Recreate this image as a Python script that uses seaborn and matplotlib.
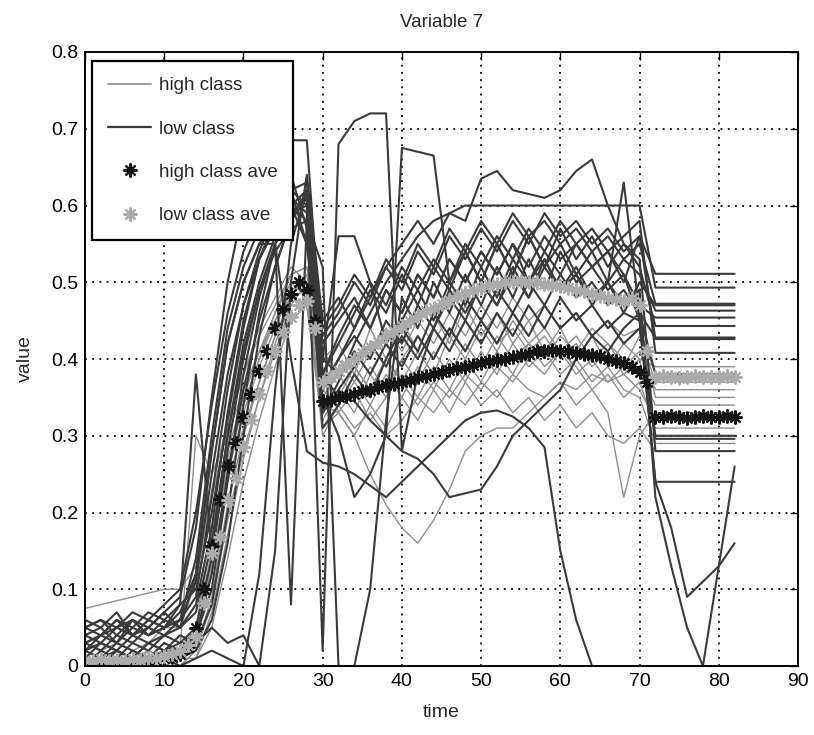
import numpy as np
import pandas as pd
import matplotlib
matplotlib.use("Agg")
import matplotlib.pyplot as plt
import seaborn as sns
from matplotlib.lines import Line2D

sns.set_theme(style="white")
plt.rcParams["font.family"] = ["Liberation Sans", "DejaVu Sans"]

# ---------------- data ----------------
time_grid = [0, 2, 4, 6, 8, 10, 12, 14, 16, 18, 20, 22, 24, 26, 28, 30, 32, 34, 36, 38, 40,
             42, 44, 46, 48, 50, 52, 54, 56, 58, 60, 62, 64, 66, 68, 70, 72, 74, 76, 78, 80, 82]
nan = float("nan")

# high class individual series (light grey)
high_1 = [0.075, 0.08, 0.085, 0.09, 0.095, 0.10,
          0.10, 0.13, 0.22, 0.31, 0.38, 0.44, 0.48, 0.52, 0.50, 0.40,
          0.42, 0.38, 0.44, 0.40, 0.45, 0.41, 0.46, 0.42, 0.47, 0.43, 0.46, 0.42, 0.45, 0.41, 0.44, 0.40, 0.43, 0.39, 0.42, 0.44,
          0.38, 0.38, 0.38, 0.38, 0.38, 0.38]
high_2 = [0.01, 0.0, 0.02, 0.01, 0.0, 0.02,
          0.02, 0.05, 0.17, 0.28, 0.35, 0.41, 0.46, 0.50, 0.48, 0.33,
          0.36, 0.33, 0.38, 0.35, 0.40, 0.37, 0.41, 0.38, 0.42, 0.39, 0.43, 0.40, 0.42, 0.39, 0.41, 0.38, 0.40, 0.37, 0.39, 0.41,
          0.36, 0.36, 0.36, 0.36, 0.36, 0.36]
high_3 = [0.0, 0.01, 0.0, 0.02, 0.01, 0.0,
          0.01, 0.03, 0.12, 0.24, 0.31, 0.37, 0.43, 0.47, 0.47, 0.34,
          0.33, 0.30, 0.25, 0.21, 0.18, 0.16, 0.19, 0.23, 0.28, 0.30, 0.31, 0.31, 0.33, 0.35, 0.37, 0.36, 0.38, 0.37, 0.38, 0.40,
          0.30, 0.30, 0.30, 0.30, 0.30, 0.30]
high_4 = [0.0, 0.0, 0.01, 0.0, 0.02, 0.01,
          0.0, 0.02, 0.08, 0.19, 0.28, 0.35, 0.41, 0.47, 0.50, 0.36,
          0.34, 0.37, 0.34, 0.38, 0.35, 0.39, 0.36, 0.40, 0.37, 0.41, 0.38, 0.42, 0.39, 0.41, 0.38, 0.40, 0.37, 0.39, 0.36, 0.35,
          0.29, 0.29, 0.29, 0.29, 0.29, 0.29]
high_5 = [0.02, 0.03, 0.02, 0.04, 0.03, 0.05,
          0.05, 0.11, 0.23, 0.32, 0.38, 0.43, 0.47, 0.51, 0.52, 0.38,
          0.35, 0.39, 0.36, 0.40, 0.37, 0.41, 0.38, 0.43, 0.40, 0.44, 0.41, 0.45, 0.42, 0.44, 0.41, 0.43, 0.40, 0.42, 0.39, 0.43,
          0.37, 0.37, 0.37, 0.37, 0.37, 0.37]
high_6 = [0.0, 0.01, 0.0, 0.0, 0.01, 0.0,
          0.01, 0.01, 0.05, 0.14, 0.24, 0.32, 0.39, 0.45, 0.47, 0.31,
          0.33, 0.30, 0.34, 0.31, 0.35, 0.32, 0.36, 0.33, 0.37, 0.34, 0.36, 0.33, 0.35, 0.32, 0.34, 0.31, 0.33, 0.30, 0.29, 0.31,
          0.28, 0.28, 0.28, 0.28, 0.28, 0.28]
high_7 = [0.0, 0.0, 0.0, 0.01, 0.0, 0.0,
          0.0, 0.02, 0.09, 0.21, 0.30, 0.37, 0.43, 0.48, 0.49, 0.35,
          0.38, 0.35, 0.39, 0.36, 0.40, 0.43, 0.40, 0.44, 0.41, 0.45, 0.42, 0.46, 0.43, 0.47, 0.44, 0.46, 0.43, 0.45, 0.42, 0.40,
          0.39, 0.39, 0.39, 0.39, 0.39, 0.39]
high_8 = [0.01, 0.0, 0.01, 0.0, 0.0, 0.01,
          0.02, 0.30, 0.25, 0.30, 0.36, 0.41, 0.45, 0.49, 0.50, 0.30,
          0.34, 0.31, 0.33, 0.30, 0.32, 0.35, 0.33, 0.36, 0.34, 0.37, 0.35, 0.38, 0.36, 0.35, 0.37, 0.34, 0.36, 0.33, 0.22, 0.30,
          0.33, 0.33, 0.33, 0.33, 0.33, 0.33]
high_9 = [0.0, 0.0, 0.01, 0.0, 0.0, 0.0,
          0.01, 0.04, 0.13, 0.25, 0.33, 0.39, 0.44, 0.49, 0.50, 0.37,
          0.40, 0.37, 0.41, 0.44, 0.41, 0.45, 0.42, 0.46, 0.43, 0.47, 0.44, 0.48, 0.45, 0.47, 0.44, 0.46, 0.43, 0.45, 0.43, 0.44,
          0.35, 0.35, 0.35, 0.35, 0.35, 0.35]
high_10 = [0.03, 0.02, 0.03, 0.02, 0.03, 0.04,
           0.05, 0.08, 0.18, 0.27, 0.34, 0.40, 0.45, 0.48, 0.47, 0.32,
           0.36, 0.39, 0.36, 0.40, 0.37, 0.34, 0.37, 0.35, 0.38, 0.36, 0.39, 0.37, 0.40, 0.38, 0.41, 0.39, 0.36, 0.38, 0.35, 0.37,
           0.31, 0.31, 0.31, 0.31, 0.31, 0.31]
high_11 = [0.0, 0.01, 0.0, 0.01, 0.0, 0.01,
           0.0, 0.01, 0.07, 0.17, 0.27, 0.35, 0.42, 0.48, 0.51, 0.39,
           0.33, 0.36, 0.32, 0.35, 0.38, 0.35, 0.39, 0.36, 0.40, 0.37, 0.41, 0.38, 0.42, 0.40, 0.43, 0.41, 0.44, 0.42, 0.40, 0.38,
           0.34, 0.34, 0.34, 0.34, 0.34, 0.34]
high_12 = [0.01, 0.0, 0.0, 0.01, 0.02, 0.01,
           0.02, 0.05, 0.15, 0.26, 0.34, 0.40, 0.46, 0.51, 0.52, 0.41,
           0.38, 0.41, 0.38, 0.42, 0.39, 0.43, 0.40, 0.44, 0.41, 0.45, 0.42, 0.44, 0.41, 0.43, 0.40, 0.42, 0.39, 0.41, 0.38, 0.36,
           0.32, 0.32, 0.32, 0.32, 0.32, 0.32]

# low class individual series (dark grey)
low_1 = [0.02, 0.04, 0.03, 0.05, 0.04, 0.06,
         0.08, 0.10, 0.20, 0.32, 0.44, 0.53, 0.58, 0.62, 0.60, 0.02,
         0.68, 0.71, 0.72, 0.72, 0.28, 0.38, 0.44, 0.48, 0.45, 0.50, 0.47, 0.52, 0.48, 0.53, 0.49, 0.51, 0.47, 0.50, 0.46, 0.50,
         0.47, 0.47, 0.47, 0.47, 0.47, 0.47]
low_2 = [0.05, 0.06, 0.04, 0.06, 0.05, 0.07,
         0.09, 0.18, 0.35, 0.50, 0.60, 0.66, 0.685, 0.685, 0.685, 0.40,
         0.56, 0.56, 0.50, 0.42, 0.45, 0.49, 0.45, 0.50, 0.47, 0.52, 0.48, 0.53, 0.50, 0.54, 0.51, 0.55, 0.52, 0.54, 0.50, 0.56,
         0.511, 0.511, 0.511, 0.511, 0.511, 0.511]
low_3 = [0.0, 0.01, 0.0, 0.02, 0.01, 0.02,
         0.02, 0.04, 0.12, 0.25, 0.36, 0.45, 0.52, 0.58, 0.61, 0.35,
         0.30, 0.22, 0.25, 0.30, 0.675, 0.67, 0.665, 0.50, 0.54, 0.50, 0.55, 0.51, 0.56, 0.52, 0.55, 0.51, 0.54, 0.50, 0.53, 0.51,
         0.463, 0.463, 0.463, 0.463, 0.463, 0.463]
low_4 = [0.03, 0.02, 0.04, 0.03, 0.05, 0.04,
         0.06, 0.09, 0.22, 0.36, 0.47, 0.54, 0.59, 0.62, 0.63, 0.36,
         0.40, 0.44, 0.48, 0.52, 0.55, 0.58, 0.55, 0.59, 0.58, 0.635, 0.645, 0.62, 0.615, 0.61, 0.62, 0.645, 0.66, 0.60, 0.55, 0.52,
         0.443, 0.443, 0.443, 0.443, 0.443, 0.443]
low_5 = [0.01, 0.03, 0.02, 0.01, 0.03, 0.02,
         0.03, 0.05, 0.14, 0.28, 0.40, 0.49, 0.55, 0.59, 0.61, 0.33,
         0.37, 0.42, 0.46, 0.50, 0.53, 0.56, 0.58, 0.59, 0.60, 0.60, 0.60, 0.60, 0.60, 0.60, 0.60, 0.60, 0.60, 0.60, 0.60, 0.60,
         0.493, 0.493, 0.493, 0.493, 0.493, 0.493]
low_6 = [0.04, 0.05, 0.03, 0.06, 0.04, 0.05,
         0.07, 0.12, 0.28, 0.42, 0.50, 0.55, 0.55, 0.40, 0.28, 0.265,
         0.26, 0.25, 0.235, 0.22, 0.24, 0.26, 0.28, 0.30, 0.32, 0.33, 0.333, 0.325, 0.31, 0.285, 0.15, 0.06, 0.0, nan, nan, nan,
         nan, nan, nan, nan, nan, nan]
low_7 = [0.03, 0.04, 0.06, 0.04, 0.05, 0.07,
         0.05, 0.12, 0.28, 0.42, 0.50, 0.55, 0.58, 0.60, 0.55, 0.38,
         0.35, 0.345, 0.32, 0.30, 0.28, 0.27, 0.25, 0.22, 0.225, 0.23, 0.26, 0.30, 0.32, 0.34, 0.36, 0.40, 0.43, 0.41, 0.44, 0.46,
         0.428, 0.428, 0.428, 0.428, 0.428, 0.428]
low_8 = [0.0, 0.02, 0.01, 0.03, 0.02, 0.04,
         0.03, 0.04, 0.10, 0.24, 0.38, 0.48, 0.55, 0.59, 0.60, 0.36,
         0.40, 0.43, 0.40, 0.45, 0.42, 0.47, 0.44, 0.49, 0.46, 0.50, 0.47, 0.51, 0.48, 0.52, 0.49, 0.51, 0.48, 0.50, 0.47, 0.49,
         0.22, 0.13, 0.05, 0.0, 0.13, 0.26]
low_9 = [0.06, 0.05, 0.07, 0.04, 0.06, 0.05,
         0.08, 0.38, 0.15, 0.30, 0.42, 0.50, 0.56, 0.60, 0.62, 0.42,
         0.45, 0.48, 0.44, 0.49, 0.46, 0.51, 0.48, 0.53, 0.50, 0.54, 0.51, 0.55, 0.52, 0.56, 0.53, 0.55, 0.52, 0.54, 0.51, 0.45,
         0.24, 0.18, 0.09, 0.11, 0.13, 0.16]
low_10 = [0.02, 0.01, 0.03, 0.02, 0.01, 0.03,
          0.02, 0.03, 0.08, 0.20, 0.34, 0.46, 0.55, 0.08, 0.58, 0.33,
          0.36, 0.39, 0.42, 0.39, 0.43, 0.40, 0.44, 0.41, 0.45, 0.42, 0.46, 0.43, 0.47, 0.44, 0.48, 0.45, 0.47, 0.44, 0.46, 0.45,
          0.30, 0.30, 0.30, 0.30, 0.30, 0.30]
low_11 = [0.0, 0.0, 0.01, 0.0, 0.0, 0.01,
          0.0, 0.01, 0.02, 0.01, 0.0, 0.12, 0.36, 0.55, 0.62, 0.38,
          0.42, 0.46, 0.50, 0.47, 0.52, 0.49, 0.53, 0.50, 0.55, 0.52, 0.56, 0.53, 0.57, 0.54, 0.58, 0.55, 0.57, 0.54, 0.56, 0.58,
          0.408, 0.408, 0.408, 0.408, 0.408, 0.408]
low_12 = [0.01, 0.0, 0.02, 0.01, 0.03, 0.02,
          0.04, 0.03, 0.05, 0.03, 0.04, 0.0, 0.15, 0.50, 0.64, 0.45,
          0.48, 0.44, 0.49, 0.46, 0.51, 0.47, 0.52, 0.49, 0.54, 0.50, 0.55, 0.51, 0.56, 0.52, 0.57, 0.53, 0.56, 0.52, 0.55, 0.53,
          0.28, 0.28, 0.28, 0.28, 0.28, 0.28]
low_13 = [0.03, 0.04, 0.05, 0.04, 0.06, 0.05,
          0.06, 0.11, 0.25, 0.38, 0.47, 0.53, 0.57, 0.60, 0.58, 0.52,
          0.0, 0.0, 0.10, 0.32, 0.48, 0.44, 0.50, 0.46, 0.51, 0.47, 0.52, 0.48, 0.53, 0.49, 0.54, 0.50, 0.52, 0.49, 0.51, 0.47,
          0.454, 0.454, 0.454, 0.454, 0.454, 0.454]
low_14 = [0.02, 0.03, 0.02, 0.04, 0.03, 0.04,
          0.05, 0.08, 0.18, 0.33, 0.45, 0.53, 0.58, 0.61, 0.59, 0.38,
          0.43, 0.47, 0.44, 0.49, 0.46, 0.51, 0.48, 0.53, 0.50, 0.54, 0.51, 0.55, 0.50, 0.53, 0.49, 0.52, 0.48, 0.50, 0.63, 0.46,
          0.24, 0.24, 0.24, 0.24, 0.24, 0.24]
low_15 = [0.04, 0.03, 0.05, 0.06, 0.04, 0.05,
          0.06, 0.14, 0.30, 0.44, 0.52, 0.57, 0.60, 0.62, 0.55, 0.40,
          0.38, 0.41, 0.38, 0.42, 0.39, 0.43, 0.40, 0.44, 0.41, 0.45, 0.42, 0.46, 0.43, 0.47, 0.44, 0.46, 0.43, 0.45, 0.42, 0.44,
          0.296, 0.296, 0.296, 0.296, 0.296, 0.296]
low_16 = [0.0, 0.01, 0.02, 0.01, 0.0, 0.01,
          0.01, 0.02, 0.06, 0.16, 0.30, 0.43, 0.52, 0.58, 0.62, 0.44,
          0.47, 0.51, 0.48, 0.53, 0.50, 0.55, 0.52, 0.57, 0.54, 0.58, 0.55, 0.59, 0.56, 0.58, 0.55, 0.57, 0.54, 0.56, 0.53, 0.55,
          0.472, 0.472, 0.472, 0.472, 0.472, 0.472]
low_17 = [0.05, 0.04, 0.06, 0.05, 0.07, 0.06,
          0.05, 0.07, 0.16, 0.30, 0.41, 0.49, 0.54, 0.57, 0.58, 0.31,
          0.34, 0.38, 0.35, 0.40, 0.44, 0.41, 0.46, 0.43, 0.48, 0.45, 0.49, 0.46, 0.50, 0.47, 0.51, 0.48, 0.50, 0.47, 0.49, 0.46,
          0.38, 0.38, 0.38, 0.38, 0.38, 0.38]
low_18 = [0.05, 0.06, 0.05, 0.07, 0.06, 0.08,
          0.10, 0.20, 0.34, 0.46, 0.54, 0.59, 0.62, 0.64, 0.57, 0.43,
          0.46, 0.50, 0.47, 0.52, 0.49, 0.54, 0.51, 0.56, 0.53, 0.57, 0.54, 0.58, 0.55, 0.59, 0.56, 0.58, 0.55, 0.57, 0.54, 0.56,
          0.426, 0.426, 0.426, 0.426, 0.426, 0.426]

# class averages, one value per time step 0..82
ave_time = list(range(0, 83))
high_ave = [0.005, 0.004, 0.006, 0.005, 0.004, 0.006, 0.005, 0.006, 0.007, 0.008, 0.010, 0.012, 0.015,
            0.025, 0.05, 0.10, 0.157, 0.217, 0.26, 0.29, 0.325, 0.355, 0.385, 0.41, 0.44, 0.465, 0.485, 0.50, 0.49, 0.45,
            0.345, 0.347, 0.35, 0.352, 0.355, 0.358, 0.36, 0.363, 0.366, 0.368, 0.37, 0.373, 0.376, 0.378, 0.38,
            0.383, 0.386, 0.388, 0.39, 0.392, 0.395, 0.397, 0.399, 0.40, 0.403, 0.405, 0.407, 0.41, 0.41, 0.412,
            0.41, 0.41, 0.408, 0.406, 0.405, 0.404, 0.40, 0.397, 0.395, 0.39, 0.383, 0.37,
            0.325, 0.324, 0.326, 0.325, 0.323, 0.325, 0.326, 0.324, 0.325, 0.326, 0.325]
low_ave = [0.008, 0.007, 0.009, 0.006, 0.008, 0.007, 0.009, 0.008, 0.010, 0.011, 0.013, 0.016, 0.02,
           0.028, 0.038, 0.082, 0.147, 0.168, 0.216, 0.245, 0.285, 0.32, 0.355, 0.385, 0.41, 0.435, 0.455, 0.47, 0.475, 0.44,
           0.37, 0.376, 0.385, 0.392, 0.40, 0.408, 0.415, 0.422, 0.43, 0.437, 0.443, 0.45, 0.456, 0.462, 0.467,
           0.472, 0.477, 0.482, 0.486, 0.49, 0.493, 0.496, 0.498, 0.50, 0.50, 0.502, 0.50, 0.50, 0.498, 0.497,
           0.495, 0.493, 0.49, 0.488, 0.485, 0.482, 0.48, 0.478, 0.476, 0.48, 0.47, 0.41,
           0.376, 0.378, 0.377, 0.375, 0.376, 0.378, 0.377, 0.376, 0.377, 0.378, 0.376]

x_ticks = [0, 10, 20, 30, 40, 50, 60, 70, 80, 90]
x_tick_labels = ["0", "10", "20", "30", "40", "50", "60", "70", "80", "90"]
y_ticks = [0, 0.1, 0.2, 0.3, 0.4, 0.5, 0.6, 0.7, 0.8]
y_tick_labels = ["0", "0.1", "0.2", "0.3", "0.4", "0.5", "0.6", "0.7", "0.8"]
legend_labels = ["high class", "low class", "high class ave", "low class ave"]

high_lines = [high_1, high_2, high_3, high_4, high_5, high_6, high_7, high_8, high_9, high_10, high_11, high_12]
low_lines = [low_1, low_2, low_3, low_4, low_5, low_6, low_7, low_8, low_9, low_10, low_11, low_12,
             low_13, low_14, low_15, low_16, low_17, low_18]


def to_long(lines, prefix):
    rows = []
    for i, vals in enumerate(lines):
        assert len(vals) == len(time_grid), (prefix, i, len(vals))
        for t, v in zip(time_grid, vals):
            rows.append({"time": t, "value": v, "line": f"{prefix}{i}"})
    return pd.DataFrame(rows)


df_high = to_long(high_lines, "h")
df_low = to_long(low_lines, "l")
df_high_ave = pd.DataFrame({"time": ave_time, "value": high_ave})
df_low_ave = pd.DataFrame({"time": ave_time, "value": low_ave})

# ---------------- styling ----------------
light_col = "#8e8e8e"
dark_col = "#3a3a3a"
star_dark = "#151515"
star_light = "#ababab"
star = (8, 2, 0)

fig = plt.figure(figsize=(8.14, 7.35), dpi=100)
ax = fig.add_axes([85 / 814, 1 - 666 / 735, 713 / 814, 614 / 735])

sns.lineplot(data=df_high, x="time", y="value", units="line", estimator=None, sort=False,
             color=light_col, linewidth=1.0, legend=False, ax=ax)
sns.lineplot(data=df_low, x="time", y="value", units="line", estimator=None, sort=False,
             color=dark_col, linewidth=1.5, legend=False, ax=ax)
sns.lineplot(data=df_high_ave, x="time", y="value", sort=False, color=star_dark, linestyle="",
             marker=star, markersize=10, markeredgewidth=1.5, markeredgecolor=star_dark, ax=ax)
sns.lineplot(data=df_low_ave, x="time", y="value", sort=False, color=star_light, linestyle="",
             marker=star, markersize=10, markeredgewidth=1.5, markeredgecolor=star_light, ax=ax)

ax.set_xlim(0, 90)
ax.set_ylim(0, 0.8)
ax.set_xticks(x_ticks)
ax.set_xticklabels(x_tick_labels)
ax.set_yticks(y_ticks)
ax.set_yticklabels(y_tick_labels)
ax.tick_params(direction="in", top=True, right=True, length=6, width=1, colors="black",
               labelsize=14, pad=5)
ax.grid(True, color="black", linestyle=(0, (1, 3)), linewidth=1.3)
ax.set_axisbelow(True)
for s in ax.spines.values():
    s.set_color("black")
    s.set_linewidth(1.4)
    s.set_visible(True)

ax.set_xlabel("time", fontsize=14, labelpad=10)
ax.set_ylabel("value", fontsize=14, labelpad=12)
ax.set_title("Variable 7", fontsize=13.5, pad=18)

handles = [
    Line2D([], [], color=light_col, linewidth=1.2),
    Line2D([], [], color=dark_col, linewidth=1.6),
    Line2D([], [], color=star_dark, linestyle="", marker=star, markersize=10, markeredgewidth=1.6),
    Line2D([], [], color=star_light, linestyle="", marker=star, markersize=10, markeredgewidth=1.6),
]
leg = ax.legend(handles, legend_labels, loc="upper left", bbox_to_anchor=(0.01, 0.985),
                fontsize=13.5, frameon=True, fancybox=False, framealpha=1, edgecolor="black",
                labelspacing=1.4, handlelength=2.3, handletextpad=0.4, borderpad=0.85,
                borderaxespad=0)
leg.get_frame().set_linewidth(1.6)

fig.savefig("out.png", dpi=100)
